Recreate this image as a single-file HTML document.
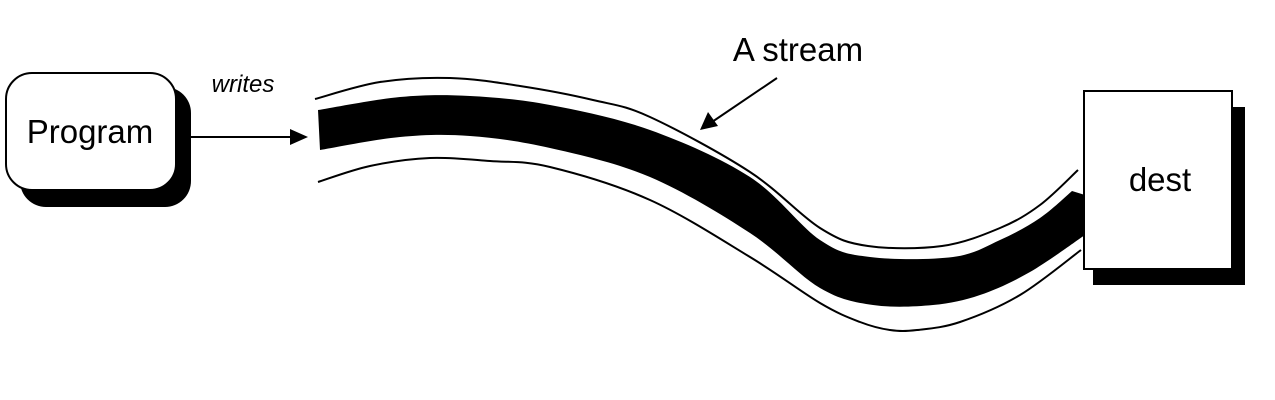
<!DOCTYPE html>
<html><head><meta charset="utf-8"><style>
html,body{margin:0;padding:0;background:#fff;}
svg{display:block;}
text{font-family:"Liberation Sans",sans-serif;fill:#000;}
</style></head><body>
<svg id="d" width="1275" height="400" viewBox="0 0 1275 400">
  <g>
    <rect x="20" y="87" width="171" height="120" rx="26" fill="#000"/>
    <rect x="6" y="73" width="170" height="117" rx="26" fill="#fff" stroke="#000" stroke-width="2"/>
    <text x="90" y="143" font-size="33" text-anchor="middle">Program</text>
  </g>
  <text x="243" y="92" font-size="24" font-style="italic" text-anchor="middle">writes</text>
  <g>
    <line x1="190" y1="137" x2="295" y2="137" stroke="#000" stroke-width="2"/>
    <polygon points="290,129 308,137 290,145" fill="#000"/>
  </g>
  <path id="ot" fill="none" stroke="#000" stroke-width="2"/>
  <path id="ob" fill="none" stroke="#000" stroke-width="2"/>
  <path id="band" fill="#000"/>
  <text x="798" y="61" font-size="33" text-anchor="middle">A stream</text>
  <g>
    <line x1="777" y1="78" x2="712" y2="122" stroke="#000" stroke-width="2"/>
    <polygon points="700,130 708,112 718,126" fill="#000"/>
  </g>
  <g>
    <rect x="1093" y="107" width="152" height="178" fill="#000"/>
    <rect x="1084" y="91" width="148" height="178" fill="#fff" stroke="#000" stroke-width="2"/>
    <text x="1160" y="191" font-size="33" text-anchor="middle">dest</text>
  </g>
</svg>
<script>
const bandTop=[[318,110],[400,97],[470,96],[550,105],[650,130],[750,177],[820,240],[870,257],[953,257],[1000,240],[1040,218],[1072,191]];
const bandBottom=[[320,150],[400,137],[470,136],[550,148],[650,177],[750,233],[820,288],[873,305],[933,305],[980,295],[1030,272],[1085,235]];
const outerTop=[[315,99],[380,82],[450,78],[520,86],[593,100],[650,117],[750,172],[820,228],[868,246],[942,246],[1000,228],[1040,205],[1078,170]];
const outerBottom=[[318,182],[370,166],[430,158],[490,161],[550,167],[650,200],[750,257],[820,303],[860,322],[890,330],[917,330],[960,322],[1020,295],[1081,250]];
function smooth(p,start){
  let d=(start?'M':'L')+p[0][0]+','+p[0][1];
  for(let i=0;i<p.length-1;i++){
    const a=p[Math.max(i-1,0)],b=p[i],c=p[i+1],e=p[Math.min(i+2,p.length-1)];
    const c1=[b[0]+(c[0]-a[0])/6,b[1]+(c[1]-a[1])/6];
    const c2=[c[0]-(e[0]-b[0])/6,c[1]-(e[1]-b[1])/6];
    d+='C'+c1[0]+','+c1[1]+' '+c2[0]+','+c2[1]+' '+c[0]+','+c[1];
  }
  return d;
}
document.getElementById('ot').setAttribute('d',smooth(outerTop,true));
document.getElementById('ob').setAttribute('d',smooth(outerBottom,true));
document.getElementById('band').setAttribute('d',smooth(bandTop,true)+'L1085,195'+smooth(bandBottom.slice().reverse(),false)+'Z');
</script>
</body></html>
